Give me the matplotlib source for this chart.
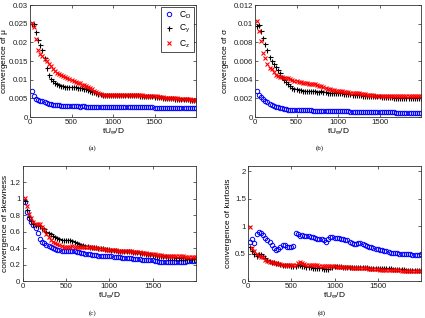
import numpy as np
import matplotlib
matplotlib.use("Agg")
import matplotlib.pyplot as plt

plt.rcParams['font.family'] = ['Liberation Sans', 'DejaVu Sans']
plt.rcParams['mathtext.fontset'] = 'custom'
plt.rcParams['mathtext.rm'] = 'Liberation Sans'
plt.rcParams['mathtext.it'] = 'Liberation Sans'

# time axis tU_inf/D
t = np.arange(25, 2001, 25)

# (a) convergence of mu
mu_cd = [.0069, .0056, .0048, .0045, .0043, .0042, .0040, .0038, .0036, .0034,
         .0033, .0033, .0032, .0031, .0030, .0030, .0030, .0029, .0029, .0029,
         .0029, .0029, .0029, .0028, .0029, .0029, .0028, .0028, .0028, .0028,
         .0028, .0028, .0028, .0028, .0028, .0028, .0028, .0028, .0028, .0028,
         .0028, .0028, .0027, .0027, .0027, .0027, .0027, .0027, .0027, .0027,
         .0027, .0027, .0027, .0026, .0026, .0026, .0026, .0026, .0026, .0025,
         .0025, .0025, .0025, .0025, .0025, .0025, .0025, .0025, .0024, .0024,
         .0024, .0024, .0024, .0024, .0024, .0024, .0024, .0023, .0023, .0023]
mu_cy = [.0250, .0248, .0227, .0205, .0193, .0180, .0158, .0130, .0112, .0103,
         .0097, .0092, .0089, .0086, .0083, .0082, .0081, .0081, .0081, .0081,
         .0080, .0080, .0079, .0079, .0078, .0076, .0074, .0072, .0070, .0068,
         .0066, .0064, .0062, .0061, .0060, .0060, .0060, .0060, .0060, .0060,
         .0060, .0060, .0060, .0059, .0059, .0059, .0059, .0059, .0058, .0058,
         .0058, .0058, .0057, .0057, .0057, .0056, .0056, .0055, .0055, .0054,
         .0054, .0053, .0053, .0052, .0052, .0051, .0051, .0050, .0050, .0049,
         .0049, .0048, .0048, .0047, .0047, .0047, .0046, .0046, .0045, .0045]
mu_cz = [.0252, .0240, .0208, .0180, .0170, .0163, .0156, .0150, .0143, .0136,
         .0128, .0122, .0119, .0116, .0113, .0110, .0107, .0104, .0101, .0098,
         .0096, .0094, .0092, .0090, .0087, .0085, .0082, .0080, .0077, .0074,
         .0070, .0067, .0064, .0062, .0060, .0060, .0059, .0060, .0060, .0060,
         .0060, .0060, .0059, .0059, .0059, .0060, .0059, .0059, .0059, .0059,
         .0058, .0058, .0058, .0058, .0057, .0057, .0057, .0056, .0056, .0056,
         .0055, .0054, .0053, .0053, .0052, .0052, .0051, .0051, .0050, .0050,
         .0050, .0049, .0049, .0048, .0048, .0047, .0047, .0046, .0046, .0045]

# (b) convergence of sigma
sd_cd = [.0028, .0024, .0021, .0019, .0017, .0016, .0014, .0013, .0012, .0011,
         .00105, .0010, .00095, .0009, .00085, .0008, .0008, .00078, .00076, .00075,
         .00074, .00073, .00072, .00072, .00071, .00070, .00070, .00069, .00068, .00068,
         .00067, .00066, .00066, .00065, .00064, .00064, .00063, .00062, .00062, .00061,
         .00061, .00060, .00060, .00059, .00059, .00058, .00058, .00057, .00057, .00056,
         .00056, .00055, .00055, .00054, .00054, .00053, .00053, .00052, .00052, .00051,
         .00051, .00050, .00050, .00050, .00049, .00049, .00049, .00048, .00048, .00048,
         .00047, .00047, .00047, .00046, .00046, .00046, .00045, .00045, .00045, .00045]
sd_cy = [.0097, .0099, .0092, .0085, .0078, .0072, .0064, .0060, .0057, .0054,
         .0050, .0047, .0043, .0040, .0037, .0035, .0033, .0031, .0030, .0030,
         .0029, .0029, .0028, .0028, .0028, .0028, .0028, .0028, .0028, .0027,
         .0027, .0028, .0027, .0027, .0026, .0026, .0026, .0026, .0026, .0026,
         .0026, .0026, .0025, .0025, .0025, .0025, .0024, .0024, .0024, .0024,
         .0024, .0023, .0023, .0023, .0023, .0022, .0022, .0022, .0022, .0022,
         .0021, .0021, .0021, .0021, .0021, .0021, .0020, .0020, .0020, .0020,
         .0020, .0020, .0020, .0020, .0020, .0020, .0020, .0020, .0020, .0020]
sd_cz = [.0103, .0092, .0081, .0069, .0063, .0057, .0053, .0051, .0048, .0045,
         .0044, .0043, .0043, .0042, .0042, .0042, .0041, .0040, .0039, .0039,
         .0038, .0037, .0036, .0036, .0036, .0035, .0035, .0035, .0035, .0034,
         .0033, .0033, .0032, .0031, .0030, .0030, .0029, .0029, .0028, .0028,
         .0028, .0028, .0027, .0027, .0027, .0026, .0026, .0026, .0026, .0026,
         .0025, .0025, .0025, .0024, .0024, .0024, .0024, .0023, .0023, .0023,
         .0023, .0023, .0022, .0022, .0022, .0022, .0022, .0022, .0022, .0022,
         .0022, .0022, .0022, .0022, .0022, .0022, .0022, .0022, .0022, .0022]

# (c) convergence of skewness
sk_cd = [.96, .84, .77, .72, .68, .64, .58, .51, .48, .46,
         .44, .43, .41, .40, .39, .38, .38, .37, .37, .36,
         .36, .37, .37, .36, .35, .35, .34, .34, .33, .33,
         .33, .32, .32, .32, .31, .31, .31, .30, .30, .30,
         .30, .29, .29, .29, .29, .28, .28, .28, .28, .28,
         .27, .27, .27, .27, .26, .26, .26, .26, .25, .25,
         .24, .24, .23, .23, .23, .23, .23, .23, .23, .23,
         .23, .23, .23, .23, .23, .24, .24, .24, .24, .25]
sk_cy = [.98, .87, .78, .73, .70, .68, .68, .67, .65, .63,
         .60, .58, .57, .55, .53, .52, .51, .50, .50, .50,
         .50, .50, .49, .47, .46, .45, .44, .44, .43, .43,
         .42, .42, .41, .41, .40, .40, .40, .39, .39, .39,
         .38, .38, .38, .37, .37, .37, .37, .36, .36, .36,
         .35, .35, .35, .34, .34, .34, .33, .33, .33, .32,
         .32, .31, .31, .30, .30, .30, .29, .29, .29, .29,
         .28, .28, .28, .28, .28, .27, .27, .27, .27, .27]
sk_cz = [1.01, .91, .82, .77, .72, .70, .69, .69, .66, .62,
         .57, .53, .50, .48, .46, .45, .44, .43, .42, .41,
         .41, .42, .43, .42, .42, .42, .42, .42, .41, .41,
         .41, .41, .40, .40, .40, .39, .39, .39, .38, .38,
         .38, .38, .38, .37, .37, .37, .37, .36, .36, .36,
         .35, .35, .35, .35, .34, .34, .34, .33, .33, .33,
         .33, .32, .32, .32, .31, .31, .31, .31, .30, .30,
         .30, .30, .30, .30, .29, .29, .29, .29, .29, .29]

# (d) convergence of kurtosis
ku_cd = [.72, .76, .70, .86, .89, .88, .84, .78, .74, .71,
         .66, .60, .57, .58, .62, .66, .65, .63, .62, .62,
         .64, .87, .85, .82, .84, .83, .83, .82, .81, .80,
         .78, .77, .77, .76, .75, .72, .76, .80, .80, .79,
         .79, .78, .77, .76, .75, .74, .72, .70, .68, .68,
         .70, .69, .67, .66, .64, .63, .62, .60, .59, .58,
         .57, .56, .55, .54, .53, .52, .52, .51, .51, .50,
         .50, .50, .49, .49, .49, .48, .48, .48, .48, .50]
ku_cy = [.62, .55, .50, .46, .50, .50, .46, .42, .39, .37,
         .35, .34, .33, .32, .31, .30, .30, .29, .29, .28,
         .28, .28, .29, .29, .28, .27, .26, .25, .25, .24,
         .24, .23, .23, .23, .22, .22, .22, .25, .26, .27,
         .27, .27, .27, .26, .26, .26, .26, .26, .26, .25,
         .25, .25, .25, .25, .25, .24, .24, .24, .24, .24,
         .24, .23, .23, .23, .23, .23, .22, .22, .22, .22,
         .22, .22, .21, .21, .21, .21, .21, .21, .21, .21]
ku_cz = [.98, .60, .55, .50, .45, .44, .43, .39, .37, .35,
         .34, .33, .32, .31, .31, .30, .30, .29, .29, .29,
         .29, .30, .33, .34, .32, .31, .30, .30, .29, .29,
         .29, .29, .28, .28, .28, .28, .28, .27, .27, .27,
         .26, .26, .26, .25, .25, .25, .25, .24, .24, .24,
         .24, .23, .23, .23, .23, .22, .22, .22, .22, .22,
         .21, .21, .21, .21, .20, .20, .20, .20, .20, .20,
         .19, .19, .19, .19, .19, .19, .18, .18, .18, .18]

series_labels = [r'C$_\mathregular{D}$', r'C$_\mathregular{y}$', r'C$_\mathregular{z}$']
ylabels = [r'convergence of $\mathregular{\mu}$', r'convergence of $\mathregular{\sigma}$',
           'convergence of skewness', 'convergence of kurtosis']
captions = ['(a)', '(b)', '(c)', '(d)']
ylims = [(0, 0.03), (0, 0.012), (0, 1.4), (0, 2.1)]
yticks = [[0, 0.005, 0.01, 0.015, 0.02, 0.025, 0.03],
          [0, 0.002, 0.004, 0.006, 0.008, 0.01, 0.012],
          [0, 0.2, 0.4, 0.6, 0.8, 1, 1.2],
          [0, 0.5, 1, 1.5, 2]]
yticklabels = [['0', '0.005', '0.01', '0.015', '0.02', '0.025', '0.03'],
               ['0', '0.002', '0.004', '0.006', '0.008', '0.01', '0.012'],
               ['0', '0.2', '0.4', '0.6', '0.8', '1', '1.2'],
               ['0', '0.5', '1', '1.5', '2']]
xticks = [0, 500, 1000, 1500]

data = [(mu_cd, mu_cy, mu_cz), (sd_cd, sd_cy, sd_cz),
        (sk_cd, sk_cy, sk_cz), (ku_cd, ku_cy, ku_cz)]

W, H = 425, 318
fig = plt.figure(figsize=(W / 100, H / 100), dpi=100)
boxes = [(30, 196, 5, 117), (255, 421, 5, 117), (22.5, 196, 166, 281), (248, 421, 166, 281)]
ylabel_x = [10, 231, 9.5, 232]   # pixel x of the y-label's right edge
cap_pos = [(93, 148), (320, 148), (93, 313), (322, 313)]

fs = 5.7
for i, (l, r, tp, b) in enumerate(boxes):
    ax = fig.add_axes([l / W, 1 - b / H, (r - l) / W, (b - tp) / H])
    cd, cy, cz = data[i]
    ax.plot(t, cd, 'o', ls='none', ms=3.2, mfc='none', mec='#0000ff', mew=0.7, label=series_labels[0])
    ax.plot(t, cy, '+', ls='none', ms=3.6, color='black', mew=0.8, label=series_labels[1])
    ax.plot(t, cz, 'x', ls='none', ms=2.6, color='#ff0000', mew=0.8, label=series_labels[2])
    ax.set_xlim(0, 2000)
    ax.set_ylim(*ylims[i])
    ax.set_xticks(xticks)
    ax.set_xticklabels([str(v) for v in xticks])
    ax.set_yticks(yticks[i])
    ax.set_yticklabels(yticklabels[i])
    ax.tick_params(direction='in', length=2, width=0.5, top=True, right=True,
                   labelsize=fs, pad=1.5, colors='#222222')
    for s in ax.spines.values():
        s.set_linewidth(0.6)
        s.set_color('#333333')
    ax.set_xlabel(r'tU$_\infty$/D', fontsize=fs + 0.3, labelpad=0)
    ax.set_ylabel(ylabels[i], fontsize=fs + 0.3)
    ax.yaxis.set_label_coords((ylabel_x[i] - l) / (r - l), 0.5)
    fig.text(cap_pos[i][0] / W, 1 - cap_pos[i][1] / H, captions[i],
             family='Liberation Serif', fontsize=5, ha='center', va='center')
    if i == 0:
        leg = ax.legend(loc='upper right', fontsize=fs + 0.5, frameon=True, fancybox=False,
                        edgecolor='black', borderpad=0.3, labelspacing=0.3,
                        handlelength=1.2, handletextpad=0.6, borderaxespad=0.2)
        leg.get_frame().set_linewidth(0.6)

fig.savefig('out.png', dpi=100)
